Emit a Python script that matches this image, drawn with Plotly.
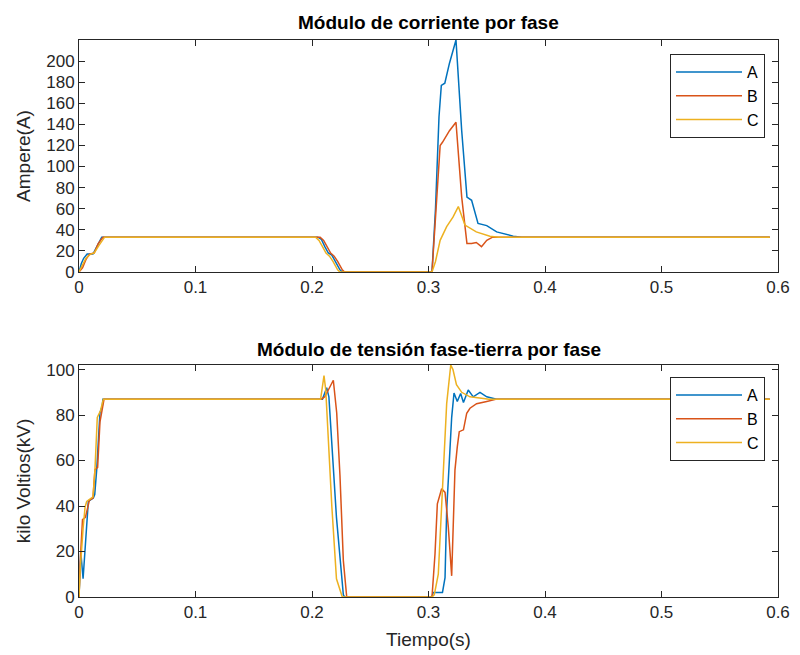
import plotly.graph_objects as go

# ---------------- data: current module per phase (A) ----------------
t_IA = [0, 0.002, 0.004, 0.007, 0.012, 0.016, 0.0195, 0.205, 0.208, 0.211, 0.214, 0.217, 0.220, 0.224, 0.226,
        0.303, 0.306, 0.309, 0.311, 0.314, 0.318, 0.3236, 0.3285, 0.333, 0.337, 0.3425, 0.350, 0.3585, 0.3727, 0.380, 0.593]
IA = [0, 8, 13, 17, 17, 26, 33, 33, 31, 24, 18, 16, 10, 2, 0,
      0, 60, 147, 177, 179, 198, 220, 134, 71, 68, 46, 44, 38, 34, 33, 33]

t_IB = [0, 0.003, 0.006, 0.009, 0.013, 0.0165, 0.0205, 0.207, 0.210, 0.213, 0.216, 0.219, 0.222, 0.226, 0.228,
        0.303, 0.306, 0.310, 0.312, 0.318, 0.3236, 0.3285, 0.333, 0.337, 0.341, 0.3455, 0.350, 0.355, 0.593]
IB = [0, 4, 12, 17, 18, 27, 33, 33, 30, 24, 18, 15, 10, 2, 0,
      0, 50, 120, 123, 134, 142, 71, 27, 27, 28, 24, 30, 33, 33]

t_IC = [0, 0.003, 0.006, 0.010, 0.013, 0.017, 0.022, 0.203, 0.206, 0.209, 0.212, 0.215, 0.218, 0.222, 0.224,
        0.303, 0.306, 0.310, 0.3156, 0.321, 0.3256, 0.3313, 0.341, 0.3527, 0.360, 0.593]
IC = [0, 6, 13, 17, 18, 25, 33, 33, 30, 24, 18, 15, 10, 2, 0,
      0, 10, 30, 43, 52, 62, 44.5, 38, 34, 33, 33]

# ---------------- data: phase-to-ground voltage module (kV) ----------------
t_VA = [0, 0.0015, 0.0035, 0.0066, 0.008, 0.0123, 0.0135, 0.0152, 0.018, 0.020, 0.0205,
        0.209, 0.2126, 0.2145, 0.2168, 0.221, 0.2269, 0.228,
        0.303, 0.304, 0.312, 0.3142, 0.3156, 0.3178, 0.3199, 0.3219, 0.3247, 0.3276, 0.330, 0.3341,
        0.3384, 0.3442, 0.350, 0.3585, 0.593]
VA = [0, 20, 8, 35, 42, 43.5, 45, 56, 81, 84, 87,
      87, 92, 88, 67.5, 35, 1, 0,
      0, 2, 2, 8.5, 38, 60, 79, 89.7, 86, 89.5, 85.5, 91,
      88, 90, 88, 87, 87]

t_VB = [0, 0.001, 0.003, 0.0055, 0.0089, 0.012, 0.0137, 0.016, 0.018, 0.0205, 0.0215,
        0.208, 0.211, 0.214, 0.2183, 0.2212, 0.224, 0.2269, 0.2298,
        0.303, 0.3056, 0.3076, 0.3113, 0.3142, 0.317, 0.3199, 0.3213, 0.3227, 0.3247, 0.3264, 0.330,
        0.3328, 0.3356, 0.3413, 0.350, 0.3585, 0.593]
VB = [0, 15, 34, 35, 42.5, 43.5, 56, 57, 77, 84, 87,
      87, 88, 91, 95.3, 81, 53.5, 16, 0,
      0, 19, 41, 47.6, 46, 30.7, 9.3, 30, 55.8, 66, 72.7, 73.5,
      80.8, 83, 85, 86, 87, 87]

t_VC = [0, 0.001, 0.0035, 0.0052, 0.0066, 0.012, 0.0137, 0.0157, 0.0185, 0.0209,
        0.2074, 0.2103, 0.2118, 0.2131, 0.217, 0.221, 0.224, 0.226,
        0.303, 0.305, 0.3084, 0.3113, 0.3136, 0.3156, 0.3191, 0.321, 0.324, 0.3285, 0.3356, 0.342, 0.352, 0.593]
VC = [0, 12, 30, 39.5, 42, 44, 56, 79, 82, 87,
      87, 97.3, 91, 78, 40, 8, 2.6, 0,
      0, 1, 10, 38, 60, 85, 102, 100, 93.4, 90, 88, 87.5, 87, 87]

phases = ["A", "B", "C"]
colors = ["#0072BD", "#D95319", "#EDB120"]
x_ticks = [0, 0.1, 0.2, 0.3, 0.4, 0.5, 0.6]
x_ticklabels = ["0", "0.1", "0.2", "0.3", "0.4", "0.5", "0.6"]
y1_ticks = list(range(0, 201, 20))
y2_ticks = list(range(0, 101, 20))

FONT = "Liberation Sans, Arial, sans-serif"
AX = "#262626"

fig = go.Figure()
cur = [(t_IA, IA), (t_IB, IB), (t_IC, IC)]
vol = [(t_VA, VA), (t_VB, VB), (t_VC, VC)]
for (t, v), name, c in zip(cur, phases, colors):
    fig.add_trace(go.Scatter(x=t, y=v, mode="lines", name=name, line=dict(color=c, width=1.5),
                             xaxis="x", yaxis="y", legend="legend"))
for (t, v), name, c in zip(vol, phases, colors):
    fig.add_trace(go.Scatter(x=t, y=v, mode="lines", name=name, line=dict(color=c, width=1.5),
                             xaxis="x2", yaxis="y2", legend="legend2"))

axis_common = dict(showline=True, linecolor=AX, linewidth=1, mirror="ticks", ticks="inside",
                   ticklen=6, tickcolor=AX, tickwidth=1, showgrid=False, zeroline=False, automargin=False,
                   tickfont=dict(family=FONT, size=17, color=AX))

top_dom = [0.5835, 1.0]
bot_dom = [0.0, 0.4165]
ph = 655 - 40 - 58

legend_common = dict(xanchor="left", yanchor="top", bgcolor="white", bordercolor=AX, borderwidth=1,
                     font=dict(family=FONT, size=16, color="black"), itemwidth=66, tracegroupgap=0)

fig.update_layout(
    width=800, height=655,
    margin=dict(l=79, r=22, t=40, b=58, autoexpand=False),
    paper_bgcolor="white", plot_bgcolor="white",
    xaxis=dict(domain=[0, 1], anchor="y", range=[0, 0.6], tickvals=x_ticks, ticktext=x_ticklabels, **axis_common),
    yaxis=dict(domain=top_dom, anchor="x", range=[0, 220], tickvals=y1_ticks,
               title=dict(text="Ampere(A)", font=dict(family=FONT, size=19, color=AX), standoff=10), **axis_common),
    xaxis2=dict(domain=[0, 1], anchor="y2", range=[0, 0.6], tickvals=x_ticks, ticktext=x_ticklabels,
                title=dict(text="Tiempo(s)", font=dict(family=FONT, size=19, color=AX), standoff=11), **axis_common),
    yaxis2=dict(domain=bot_dom, anchor="x2", range=[0, 102], tickvals=y2_ticks,
                title=dict(text="kilo Voltios(kV)", font=dict(family=FONT, size=19, color=AX), standoff=10), **axis_common),
    legend=dict(x=(670 - 79) / 699, y=(597 - 54) / ph, **legend_common),
    legend2=dict(x=(670 - 79) / 699, y=(597 - 377) / ph, **legend_common),
    annotations=[
        dict(text="<b>Módulo de corriente por fase</b>", x=0.5, y=(597 - 22) / ph, xref="paper", yref="paper",
             xanchor="center", yanchor="middle", showarrow=False, font=dict(family=FONT, size=19, color="black")),
        dict(text="<b>Módulo de tensión fase-tierra por fase</b>", x=0.5, y=(597 - 349) / ph, xref="paper",
             yref="paper", xanchor="center", yanchor="middle", showarrow=False,
             font=dict(family=FONT, size=19, color="black")),
    ],
)

fig.write_html("out.html")
